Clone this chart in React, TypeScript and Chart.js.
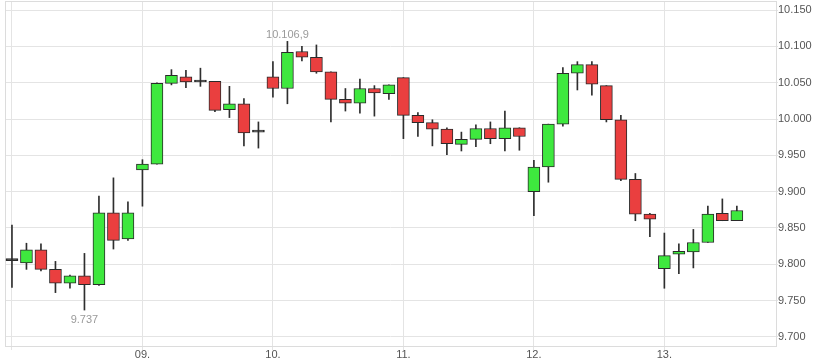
import React, { useEffect, useRef } from 'react';
import { Chart, registerables } from 'chart.js';

Chart.register(...registerables);

// Candle index (9 candles per trading day, day 08. starts at index 0)
const opens = [
  9805, 9802, 9820, 9793, 9774, 9784, 9772, 9871, 9835,
  9930, 9938, 10049, 10058, 10051, 10052, 10013, 10021, 9982,
  10058, 10042, 10093, 10085, 10065, 10027, 10022, 10042, 10035,
  10057, 10005, 9995, 9986, 9965, 9972, 9987, 9973, 9988,
  9900, 9934, 9993, 10063, 10075, 10046, 9999, 9917, 9869,
  9794, 9814, 9817, 9830, 9870, 9860,
];
const highs = [
  9854, 9829, 9828, 9804, 9785, 9815, 9894, 9919, 9886,
  9944, 10050, 10068, 10067, 10070, 10052, 10045, 10028, 9996,
  10079, 10106.9, 10100, 10102, 10065, 10042, 10055, 10046, 10047,
  10057, 10009, 9999, 9988, 9982, 9992, 9996, 10011, 9988,
  9943, 9993, 10071, 10079, 10079, 10046, 10005, 9925, 9870,
  9843, 9828, 9848, 9880, 9890, 9880,
];
const lows = [
  9768, 9793, 9791, 9761, 9767, 9737, 9771, 9821, 9833,
  9880, 9938, 10047, 10043, 10045, 10010, 10002, 9963, 9960,
  10030, 10021, 10080, 10063, 9996, 10011, 10008, 10004, 10027,
  9973, 9976, 9963, 9951, 9956, 9962, 9966, 9956, 9957,
  9867, 9913, 9990, 10040, 10033, 9996, 9915, 9860, 9838,
  9767, 9787, 9795, 9830, 9860, 9860,
];
const closes = [
  9805, 9820, 9793, 9774, 9784, 9772, 9871, 9833, 9871,
  9938, 10049, 10060, 10051, 10051, 10012, 10021, 9981, 9982,
  10042, 10092, 10085, 10065, 10027, 10022, 10042, 10036, 10047,
  10005, 9995, 9986, 9966, 9972, 9987, 9973, 9988, 9976,
  9934, 9993, 10063, 10075, 10048, 9999, 9917, 9869, 9862,
  9812, 9818, 9830, 9869, 9860, 9874,
];

const dayTickPositions = [0, 9, 18, 27, 36, 45];
const dayTickLabels = ['', '09.', '10.', '11.', '12.', '13.'];
const priceTicks = [9700, 9750, 9800, 9850, 9900, 9950, 10000, 10050, 10100, 10150];

const UP = '#3ee83e';
const DOWN = '#ea3f3f';
const EDGE = '#2a2a2a';
const GRID = '#e4e4e4';
const FONT = '"Liberation Sans", Arial, sans-serif';

function fmtDE(v: number): string {
  const abs = Math.abs(v);
  const intPart = Math.floor(abs + 1e-9);
  const frac = Math.round((abs - intPart) * 10);
  const s = String(intPart).replace(/\B(?=(\d{3})+(?!\d))/g, '.');
  return (v < 0 ? '-' : '') + s + (frac ? ',' + frac : '');
}

const framePlugin = {
  id: 'frameAndLabels',
  beforeDatasetsDraw(chart: any) {
    const { ctx, chartArea } = chart;
    ctx.save();
    ctx.strokeStyle = '#dcdcdc';
    ctx.lineWidth = 1;
    ctx.strokeRect(
      Math.round(chartArea.left) + 0.5,
      Math.round(chartArea.top) + 0.5,
      Math.round(chartArea.right - chartArea.left),
      Math.round(chartArea.bottom - chartArea.top)
    );
    ctx.restore();
  },
  afterDatasetsDraw(chart: any) {
    const { ctx } = chart;
    const xs = chart.scales.x;
    const ys = chart.scales.y;
    let hi = 0;
    let lo = 0;
    highs.forEach((h, i) => { if (h > highs[hi]) hi = i; });
    lows.forEach((l, i) => { if (l < lows[lo]) lo = i; });
    ctx.save();
    ctx.font = '11px ' + FONT;
    ctx.fillStyle = '#9a9a9a';
    ctx.textAlign = 'center';
    ctx.textBaseline = 'alphabetic';
    ctx.fillText(fmtDE(highs[hi]), xs.getPixelForValue(hi), ys.getPixelForValue(highs[hi]) - 3);
    ctx.fillText(fmtDE(lows[lo]), xs.getPixelForValue(lo), ys.getPixelForValue(lows[lo]) + 13);
    ctx.restore();
  },
};

export default function App() {
  const canvasRef = useRef<HTMLCanvasElement | null>(null);

  useEffect(() => {
    document.body.style.margin = '0';
    const canvas = canvasRef.current;
    if (!canvas) return;

    const bodyData = opens.map((o, i) => ({ x: i, y: [o, closes[i]] }));
    const wickData = lows.map((l, i) => ({ x: i, y: [l, highs[i]] }));
    const bodyColors = opens.map((o, i) =>
      closes[i] > o ? UP : closes[i] < o ? DOWN : EDGE
    );

    const chart = new Chart(canvas, {
      type: 'bar',
      data: {
        datasets: [
          {
            label: 'body',
            data: bodyData as any,
            backgroundColor: bodyColors,
            borderColor: EDGE,
            borderWidth: 1,
            borderSkipped: false,
            barThickness: 12,
            minBarLength: 2,
            grouped: false,
            order: 0,
          } as any,
          {
            label: 'wick',
            data: wickData as any,
            backgroundColor: '#2e2e2e',
            borderWidth: 0,
            barThickness: 1,
            grouped: false,
            order: 1,
          } as any,
        ],
      },
      options: {
        animation: false,
        responsive: false,
        maintainAspectRatio: false,
        layout: { padding: { left: 5, top: 1, right: 0, bottom: 0 } },
        plugins: {
          legend: { display: false },
          tooltip: { enabled: false },
        },
        scales: {
          x: {
            type: 'linear',
            min: -0.48,
            max: 52.7,
            offset: false,
            afterBuildTicks: (s: any) => {
              s.ticks = dayTickPositions.map((v) => ({ value: v }));
            },
            afterFit: (s: any) => {
              s.height = 17;
              s.paddingLeft = 0;
              s.paddingRight = 0;
            },
            grid: { color: GRID, tickLength: 4, offset: false },
            border: { display: false },
            ticks: {
              autoSkip: false,
              maxRotation: 0,
              padding: -2,
              color: '#555',
              font: { family: FONT, size: 11 },
              callback: (_v: any, i: number) => dayTickLabels[i],
            },
          } as any,
          y: {
            type: 'linear',
            position: 'right',
            min: 9687.5,
            max: 10162.5,
            afterBuildTicks: (s: any) => {
              s.ticks = priceTicks.map((v) => ({ value: v }));
            },
            afterFit: (s: any) => {
              s.width = 38;
              s.paddingTop = 0;
              s.paddingBottom = 0;
            },
            grid: { color: GRID, tickLength: 2 },
            border: { display: false },
            ticks: {
              padding: 0,
              color: '#555',
              font: { family: FONT, size: 11 },
              callback: (v: any) => fmtDE(Number(v)),
            },
          } as any,
        },
      },
      plugins: [framePlugin],
    });

    return () => chart.destroy();
  }, []);

  return (
    <div style={{ position: 'absolute', left: 0, top: 0, width: 814, height: 363, background: '#fff' }}>
      <canvas ref={canvasRef} width={814} height={363} style={{ width: 814, height: 363, display: 'block' }} />
    </div>
  );
}
